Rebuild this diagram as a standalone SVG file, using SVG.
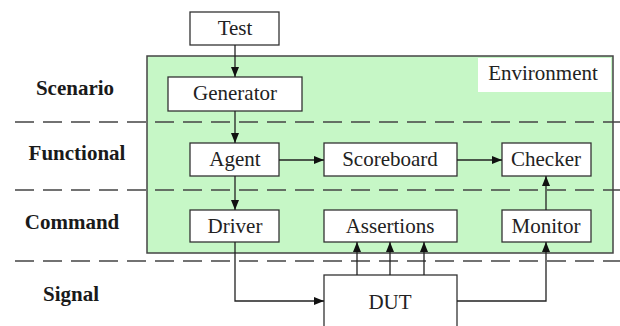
<svg xmlns="http://www.w3.org/2000/svg" width="620" height="326" viewBox="0 0 620 326">
<defs>
<marker id="ah" viewBox="0 0 10 8" refX="10" refY="4" markerWidth="10" markerHeight="8" markerUnits="userSpaceOnUse" orient="auto">
<path d="M0,0 L10,4 L0,8 z" fill="#111"/>
</marker>
</defs>
<style>
.box{fill:#fff;stroke:#333;stroke-width:1.3}
.t{font-family:'Liberation Serif','Times New Roman',Times,'DejaVu Serif','Noto Serif',serif;font-size:21px;fill:#222;text-anchor:middle}
.lbl{font-family:'Liberation Serif','Times New Roman',Times,'DejaVu Serif','Noto Serif',serif;font-size:21px;font-weight:bold;fill:#1a1a1a;text-anchor:middle}
.dash{stroke:#444;stroke-width:1.3;stroke-dasharray:19 9;fill:none}
.c{stroke:#222;stroke-width:1.3;fill:none;marker-end:url(#ah)}
</style>
<rect width="620" height="326" fill="#fff"/>
<g id="environment">
<rect x="147" y="56" width="466" height="197" fill="#c6f7c6" stroke="#444" stroke-width="1.5"/>
<rect x="478" y="58" width="133" height="34" fill="#fff"/>
<text class="t" x="543" y="80">Environment</text>
</g>
<g id="layers">
<line class="dash" x1="15" y1="122" x2="620" y2="122"/>
<line class="dash" x1="15" y1="190" x2="620" y2="190"/>
<line class="dash" x1="15" y1="261" x2="620" y2="261"/>
<text class="lbl" x="75" y="95">Scenario</text>
<text class="lbl" x="77" y="160">Functional</text>
<text class="lbl" x="72" y="229">Command</text>
<text class="lbl" x="71" y="301">Signal</text>
</g>
<g id="test"><rect class="box" x="190" y="12" width="89" height="33"/><text class="t" x="235" y="35">Test</text></g>
<g id="generator"><rect class="box" x="168" y="77" width="134" height="34"/><text class="t" x="235" y="100">Generator</text></g>
<g id="agent"><rect class="box" x="190" y="143" width="89" height="33"/><text class="t" x="235" y="166">Agent</text></g>
<g id="scoreboard"><rect class="box" x="324" y="143" width="133" height="33"/><text class="t" x="390" y="166">Scoreboard</text></g>
<g id="checker"><rect class="box" x="502" y="143" width="89" height="33"/><text class="t" x="546" y="166">Checker</text></g>
<g id="driver"><rect class="box" x="190" y="210" width="89" height="32"/><text class="t" x="235" y="233">Driver</text></g>
<g id="assertions"><rect class="box" x="324" y="210" width="133" height="32"/><text class="t" x="390" y="233">Assertions</text></g>
<g id="monitor"><rect class="box" x="502" y="210" width="89" height="32"/><text class="t" x="546" y="233">Monitor</text></g>
<g id="dut"><rect class="box" x="324" y="275" width="133" height="60"/><text class="t" x="390" y="309">DUT</text></g>
<g id="connectors">
<path class="c" d="M235,45 V77"/>
<path class="c" d="M235,111 V143"/>
<path class="c" d="M235,176 V210"/>
<path class="c" d="M279,160 H324"/>
<path class="c" d="M457,160 H502"/>
<path class="c" d="M235,242 V301 H324"/>
<path class="c" d="M457,301 H546 V242"/>
<path class="c" d="M546,210 V176"/>
<path class="c" d="M357,275 V242"/>
<path class="c" d="M390,275 V242"/>
<path class="c" d="M424,275 V242"/>
</g>
</svg>
